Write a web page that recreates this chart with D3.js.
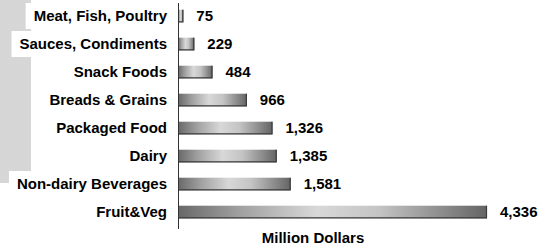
<!DOCTYPE html>
<html>
<head>
<meta charset="utf-8">
<script src="https://cdn.jsdelivr.net/npm/d3@7"></script>
<style>
  body { margin: 0; background: #fff; }
  svg text { font-family: Arial, "Liberation Sans", sans-serif; font-weight: bold; }
</style>
</head>
<body>
<div id="chart"></div>
<script>
// Data
const categories = ["Meat, Fish, Poultry", "Sauces, Condiments", "Snack Foods", "Breads & Grains",
  "Packaged Food", "Dairy", "Non-dairy Beverages", "Fruit&Veg"];
const values = [75, 229, 484, 966, 1326, 1385, 1581, 4336];
const axisTitle = "Million Dollars";

const width = 550, height = 247;
const x0 = 178;

const svg = d3.select("#chart").append("svg")
  .attr("width", width)
  .attr("height", height);

// gradient for the bars
const defs = svg.append("defs");
const grad = defs.append("linearGradient").attr("id", "barGrad")
  .attr("x1", "0%").attr("x2", "100%").attr("y1", "0%").attr("y2", "0%");
grad.append("stop").attr("offset", "0%").attr("stop-color", "#686868");
grad.append("stop").attr("offset", "20%").attr("stop-color", "#a0a0a0");
grad.append("stop").attr("offset", "45%").attr("stop-color", "#d8d8d8");
grad.append("stop").attr("offset", "65%").attr("stop-color", "#c4c4c4");
grad.append("stop").attr("offset", "100%").attr("stop-color", "#646464");

// gray block in the back at the left
svg.append("rect")
  .attr("x", 0).attr("y", 0)
  .attr("width", 31).attr("height", 183)
  .attr("fill", "#d6d6d6");

const x = d3.scaleLinear().domain([0, 4336]).range([x0, 487]);
const y = d3.scaleBand().domain(categories).range([2, 226]).paddingInner(0.55).paddingOuter(0.275);

// category labels with white boxes
const labels = svg.append("g");
categories.forEach((c) => {
  const g = labels.append("g");
  const t = g.append("text")
    .attr("x", 167)
    .attr("y", y(c) + y.bandwidth() / 2)
    .attr("dy", "0.36em")
    .attr("text-anchor", "end")
    .attr("font-size", 15)
    .attr("fill", "#000")
    .text(c);
  const bb = t.node().getBBox();
  g.insert("rect", "text")
    .attr("x", Math.max(0, bb.x - 8))
    .attr("y", y(c) + y.bandwidth() / 2 - 13)
    .attr("width", 172 - Math.max(0, bb.x - 8))
    .attr("height", 26)
    .attr("fill", "#fff");
});

// bars
const bars = svg.append("g");
bars.selectAll("rect.bar")
  .data(values)
  .enter()
  .append("rect")
  .attr("class", "bar")
  .attr("x", x(0))
  .attr("y", (d, i) => y(categories[i]))
  .attr("width", (d) => x(d) - x(0))
  .attr("height", y.bandwidth())
  .attr("fill", "url(#barGrad)");

// bottom & right shadow edge
bars.selectAll("path.edge")
  .data(values)
  .enter()
  .append("path")
  .attr("class", "edge")
  .attr("d", (d, i) => {
    const top = y(categories[i]), bot = top + y.bandwidth();
    return `M${x(0)},${bot - 0.5}H${x(d) - 0.5}V${top}`;
  })
  .attr("fill", "none")
  .attr("stroke", "#3a3a3a")
  .attr("stroke-width", 1.2);

// value labels
svg.append("g").selectAll("text")
  .data(values)
  .enter()
  .append("text")
  .attr("x", (d) => x(d) + 13)
  .attr("y", (d, i) => y(categories[i]) + y.bandwidth() / 2)
  .attr("dy", "0.36em")
  .attr("font-size", 15)
  .text((d) => d3.format(",")(d));

// vertical axis line
svg.append("line")
  .attr("x1", x0 + 0.5).attr("x2", x0 + 0.5)
  .attr("y1", 3).attr("y2", 229)
  .attr("stroke", "#333")
  .attr("stroke-width", 1);

// axis title
svg.append("text")
  .attr("x", 313)
  .attr("y", 243)
  .attr("text-anchor", "middle")
  .attr("font-size", 15)
  .text(axisTitle);
</script>
</body>
</html>
